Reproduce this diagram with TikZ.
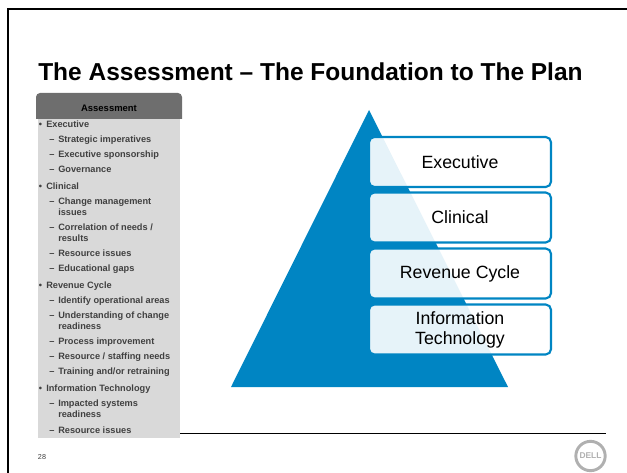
\documentclass[tikz,border=0pt]{standalone}
\usepackage{fontspec}
\setmainfont{Liberation Sans}
\usepackage{xcolor}
\definecolor{dellblue}{HTML}{0085C3}
\definecolor{panelgrey}{HTML}{D9D9D9}
\definecolor{headgrey}{HTML}{6E6E6E}
\definecolor{itemgrey}{HTML}{404040}
\definecolor{logogrey}{HTML}{B0B0B0}
\tikzset{
	listhead/.style={anchor=north west, inner sep=0pt, align=left, text=itemgrey, font=\bfseries\fontsize{6.9}{8.25}\selectfont},
	listsub/.style={listhead},
	levelbox/.style={draw=dellblue, line width=1.6pt, fill=white, fill opacity=0.9, text opacity=1, rounded corners=4pt, minimum width=136.5pt, minimum height=37.5pt, align=center, font=\fontsize{13.3}{15}\selectfont},
}
\begin{document}
\begin{tikzpicture}[x=0.75pt,y=-0.75pt]
		\useasboundingbox (0,0) rectangle (627,473);
		\draw[line width=2pt] (8,473) -- (8,9) -- (627,9);
		\node[anchor=base west, inner sep=0pt, font=\bfseries\fontsize{18.37}{22}\selectfont] (title) at (38,80.5) {The Assessment – The Foundation to The Plan};
		\draw[line width=0.75pt] (180,433) -- (606,433);
		\fill[panelgrey] (38,119) rectangle (180,438);
		\fill[headgrey] (36,119) [rounded corners=3pt] -- (36,93) -- (182,93) [sharp corners] -- (182,119) -- cycle;
		\node[font=\bfseries\fontsize{7.1}{8.5}\selectfont, inner sep=0pt] (listtitle) at (109,108.5) {Assessment};
		\foreach \n/\y/\txt in {a/120.5/Executive, b/182.5/Clinical, c/281.5/Revenue Cycle, d/384.5/Information Technology}
			\node[listhead] (head\n) at (46,\y) {\llap{•\hspace{3.2pt}}\txt};
		\foreach \n/\y/\txt in {
			a/135.5/Strategic imperatives,
			b/150.5/Executive sponsorship,
			c/165.5/Governance,
			d/198/{Change management\\issues},
			e/224/{Correlation of needs /\\results},
			f/250/Resource issues,
			g/265/Educational gaps,
			h/297/Identify operational areas,
			i/312/{Understanding of change\\readiness},
			j/338/Process improvement,
			k/353/{Resource / staffing needs},
			l/368/{Training and/or retraining},
			m/400/{Impacted systems\\readiness},
			n/427/Resource issues}
			\node[listsub] (sub\n) at (58,\y) {\llap{–\hspace{2.8pt}}\txt};
		\fill[dellblue] (369,110) -- (508,387) -- (231,387) -- cycle;
		\node[levelbox] (executive) at (460,162) {Executive};
		\node[levelbox] (clinical) at (460,217.5) {Clinical};
		\node[levelbox] (revenue) at (460,273.5) {Revenue Cycle};
		\node[levelbox] (infotech) at (460,329.5) {Information\\Technology};
		\node[inner sep=0pt, font=\fontsize{5.4}{6}\selectfont, text=itemgrey] (pagenum) at (42,457) {28};
		\node[circle, draw=logogrey, line width=2.2pt, minimum size=22pt, inner sep=0pt, text=logogrey, font=\bfseries\fontsize{6.3}{7}\selectfont] (logo) at (590.5,456) {DELL};
	\end{tikzpicture}
\end{document}
